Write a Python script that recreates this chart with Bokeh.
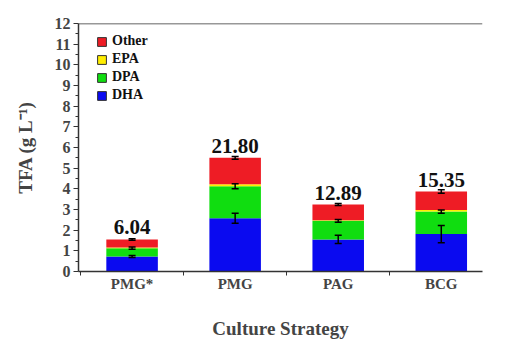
from bokeh.plotting import figure
from bokeh.models import (ColumnDataSource, FixedTicker, Range1d, Whisker, Span,
                          Legend, LegendItem)
from bokeh.core.properties import value
from bokeh.embed import file_html
from bokeh.resources import INLINE

categories = ["PMG*", "PMG", "PAG", "BCG"]
dha = [0.73, 2.58, 1.55, 1.81]
dpa = [0.40, 1.55, 0.90, 1.09]
epa = [0.03, 0.09, 0.03, 0.08]
other = [0.39, 1.28, 0.76, 0.89]
err_dha = [0.05, 0.24, 0.20, 0.42]
err_dpa = [0.05, 0.12, 0.07, 0.08]
err_total = [0.04, 0.07, 0.05, 0.08]
totals_label = ["6.04", "21.80", "12.89", "15.35"]

FONT = "Liberation Serif"
colors = {"DHA": "#0A0AF0", "DPA": "#10DD10", "EPA": "#FFEE00", "Other": "#EE1C25"}

x = [i + 1 for i in range(len(categories))]
b1 = dha
b2 = [a + b for a, b in zip(b1, dpa)]
b3 = [a + b for a, b in zip(b2, epa)]
b4 = [a + b for a, b in zip(b3, other)]

p = figure(width=516, height=351, output_backend="svg", toolbar_location=None,
           x_range=Range1d(0.48, 4.40), y_range=Range1d(0, 12),
           min_border_left=78, min_border_right=34, min_border_top=23, min_border_bottom=80)
p.outline_line_color = None
p.xgrid.visible = False
p.ygrid.visible = False
p.background_fill_color = "white"

src = ColumnDataSource(dict(x=x, b0=[0] * 4, b1=b1, b2=b2, b3=b3, b4=b4,
                            e1lo=[v - e for v, e in zip(b1, err_dha)], e1hi=[v + e for v, e in zip(b1, err_dha)],
                            e2lo=[v - e for v, e in zip(b2, err_dpa)], e2hi=[v + e for v, e in zip(b2, err_dpa)],
                            e4lo=[v - e for v, e in zip(b4, err_total)], e4hi=[v + e for v, e in zip(b4, err_total)],
                            lab=totals_label))

W = 0.5
p.vbar(x="x", bottom="b0", top="b1", width=W, source=src, fill_color=colors["DHA"], line_color=None)
p.vbar(x="x", bottom="b1", top="b2", width=W, source=src, fill_color=colors["DPA"], line_color=None)
p.vbar(x="x", bottom="b2", top="b3", width=W, source=src, fill_color=colors["EPA"], line_color=None)
p.vbar(x="x", bottom="b3", top="b4", width=W, source=src, fill_color=colors["Other"], line_color=None)

for lo, hi in [("e1lo", "e1hi"), ("e2lo", "e2hi"), ("e4lo", "e4hi")]:
    w = Whisker(base="x", lower=lo, upper=hi, source=src, line_color="black", line_width=1.5,
                level="overlay")
    w.upper_head.size = 7
    w.lower_head.size = 7
    w.upper_head.line_width = 1.5
    w.lower_head.line_width = 1.5
    p.add_layout(w)

p.text(x="x", y="b4", text="lab", source=src, text_align="center", text_baseline="bottom",
       y_offset=-5, text_font=value(FONT), text_font_style="bold", text_font_size="21px",
       text_color="#111111")

# legend proxies (one point far outside the visible range)
proxy = ColumnDataSource(dict(x=[-100], y=[-100]))
items = []
for name in ["Other", "EPA", "DPA", "DHA"]:
    r = p.rect(x="x", y="y", width=1, height=1, source=proxy, fill_color=colors[name],
               line_color="#333333", line_width=1)
    items.append(LegendItem(label=name, renderers=[r]))
leg = Legend(items=items, location=(18, 168), border_line_color=None, background_fill_alpha=0,
             glyph_width=11, glyph_height=11, label_standoff=5, spacing=2, label_height=14,
             margin=0, padding=0, label_text_font=FONT, label_text_font_style="bold",
             label_text_font_size="14px", label_text_color="#111111")
p.add_layout(leg)

p.add_layout(Span(location=12, dimension="width", line_color="#333333", line_width=1.5))

ax = p.xaxis[0]
ax.ticker = FixedTicker(ticks=x, minor_ticks=[0.5, 1.5, 2.5, 3.5])
ax.major_label_overrides = {i + 1: c for i, c in enumerate(categories)}
ax.major_tick_out = 0
ax.major_tick_in = 0
ax.minor_tick_out = 4
ax.minor_tick_in = 0
ax.axis_line_width = 1.5
ax.axis_line_color = "#333333"
ax.minor_tick_line_color = "#333333"
ax.major_label_text_font = FONT
ax.major_label_text_font_style = "bold"
ax.major_label_text_font_size = "15px"
ax.major_label_standoff = 0
ax.axis_label = "Culture Strategy"
ax.axis_label_text_font = FONT
ax.axis_label_text_font_style = "bold"
ax.axis_label_text_font_size = "19px"
ax.axis_label_standoff = 23

ay = p.yaxis[0]
ay.ticker = FixedTicker(ticks=list(range(0, 13)), minor_ticks=[i + 0.5 for i in range(12)])
ay.major_tick_out = 5
ay.major_tick_in = 0
ay.minor_tick_out = 3
ay.minor_tick_in = 0
ay.axis_line_width = 1.5
ay.axis_line_color = "#333333"
ay.major_tick_line_color = "#333333"
ay.minor_tick_line_color = "#333333"
ay.major_label_text_font = FONT
ay.major_label_text_font_style = "bold"
ay.major_label_text_font_size = "16px"
ay.major_label_standoff = 3
ay.axis_label = "TFA (g L\u207B\u00B9)"
ay.axis_label_text_font = FONT
ay.axis_label_text_font_style = "bold"
ay.axis_label_text_font_size = "19px"
ay.axis_label_standoff = 16

open("out.html", "w").write(file_html(p, INLINE))
